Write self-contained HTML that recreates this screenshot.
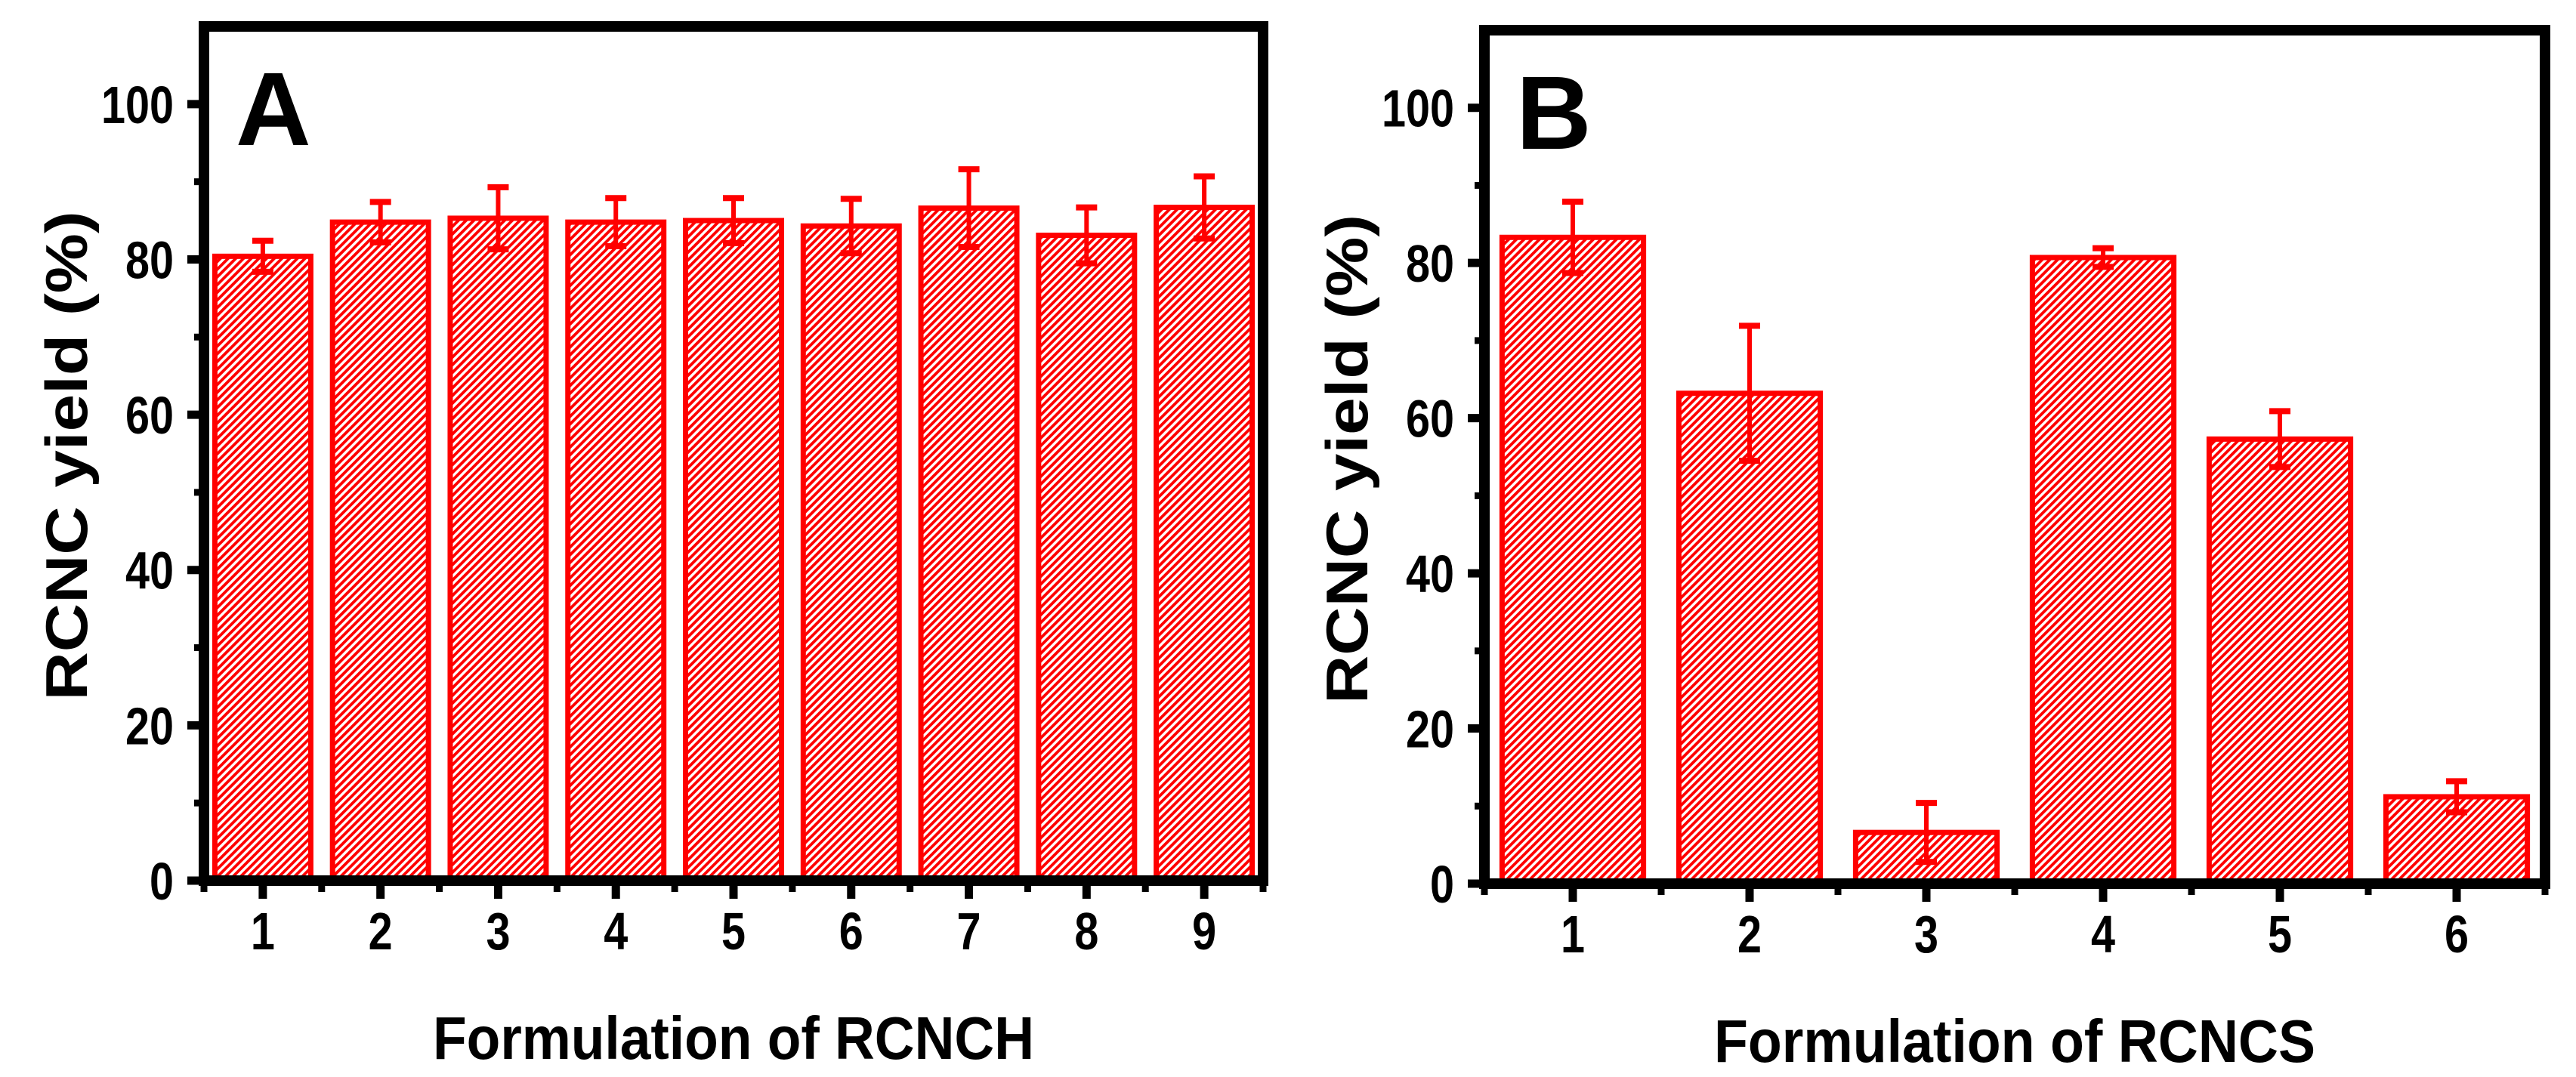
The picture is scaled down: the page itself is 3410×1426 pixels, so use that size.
<!DOCTYPE html>
<html><head><meta charset="utf-8"><style>
html,body{margin:0;padding:0;background:#fff;}
svg{display:block;}
text{font-family:"Liberation Sans",Arial,sans-serif;font-weight:bold;fill:#000;}
</style></head>
<body>
<svg id="fig" width="3410" height="1426" viewBox="0 0 3410 1426" xmlns="http://www.w3.org/2000/svg">
<defs>
<pattern id="hatch" patternUnits="userSpaceOnUse" width="7.2" height="20" patternTransform="rotate(45)">
<rect x="0" y="0" width="3.8" height="20" fill="#ff0000"/>
</pattern>
</defs>
</svg>
<script>
const catsA = ["1","2","3","4","5","6","7","8","9"];
const valsA = [80.4, 84.8, 85.3, 84.8, 85.0, 84.3, 86.6, 83.1, 86.7];
const errsA = [2.0, 2.6, 4.0, 3.1, 2.9, 3.5, 5.0, 3.6, 4.0];
const catsB = ["1","2","3","4","5","6"];
const valsB = [83.3, 63.2, 6.6, 80.7, 57.3, 11.2];
const errsB = [4.6, 8.7, 3.8, 1.2, 3.6, 2.0];
const yTicks = [0, 20, 40, 60, 80, 100];
const yMinor = [10, 30, 50, 70, 90];

const NS = "http://www.w3.org/2000/svg";
const svg = document.getElementById('fig');
function mk(tag, attrs, parent){
  const e = document.createElementNS(NS, tag);
  for (const k in attrs) e.setAttribute(k, attrs[k]);
  (parent||svg).appendChild(e);
  return e;
}

function panel(cfg, cats, vals, errs){
  const g = mk('g', {});
  
  
  const n = cats.length;
  const pitch = (cfg.R - cfg.L) / n;
  const xs = i => cfg.L + pitch * (i + 0.5);
  const ys = v => cfg.B - (cfg.B - cfg.T) * v / 110;
  const bw = pitch * cfg.bf;
  for (let i = 0; i < n; i++) {
    const top = ys(vals[i]);
    const r = mk('rect', {x: xs(i) - bw/2 + 3.5, y: top, width: bw - 7, height: cfg.B - top, fill: 'url(#hatch)', stroke: '#ff0000', 'stroke-width': 7}, g);
    
    
  }
  for (let i = 0; i < n; i++) {
    const eg = mk('g', {stroke: '#ff0000', 'stroke-width': 6, fill: 'none'}, g);
    
    
    const x = xs(i), hi = ys(vals[i] + errs[i]), lo = ys(vals[i] - errs[i]);
    mk('line', {x1: x, y1: hi, x2: x, y2: lo}, eg);
    mk('line', {x1: x - 14, y1: hi, x2: x + 14, y2: hi, 'stroke-width': 8}, eg);
    mk('line', {x1: x - 14, y1: lo, x2: x + 14, y2: lo, 'stroke-width': 8}, eg);
  }
  const f = mk('rect', {x: cfg.L, y: cfg.T, width: cfg.R - cfg.L, height: cfg.B - cfg.T, fill: 'none', stroke: '#000', 'stroke-width': 14}, g);
  
  
  const ya = mk('g', {}, g);
  
  
  yTicks.forEach(v => {
    const y = ys(v);
    mk('line', {x1: cfg.L - 22, y1: y, x2: cfg.L, y2: y, stroke: '#000', 'stroke-width': 11}, ya);
    const s = String(v);
    const t = mk('text', {x: cfg.L - 40, y: y + 25, 'text-anchor': 'end', 'font-size': 70, textLength: 32 * s.length, lengthAdjust: 'spacingAndGlyphs'}, ya);
    t.textContent = s;
    
    
  });
  yMinor.forEach(v => {
    const y = ys(v);
    mk('line', {x1: cfg.L - 13, y1: y, x2: cfg.L, y2: y, stroke: '#000', 'stroke-width': 9}, ya);
  });
  const xa = mk('g', {}, g);
  
  
  for (let i = 0; i < n; i++) {
    const x = xs(i);
    mk('line', {x1: x, y1: cfg.B, x2: x, y2: cfg.B + 24, stroke: '#000', 'stroke-width': 11}, xa);
    const t = mk('text', {x: x, y: cfg.B + 91, 'text-anchor': 'middle', 'font-size': 70, textLength: 32, lengthAdjust: 'spacingAndGlyphs'}, xa);
    t.textContent = cats[i];
    
    
  }
  for (let i = 0; i <= n; i++) {
    const x = cfg.L + pitch * i;
    mk('line', {x1: x, y1: cfg.B, x2: x, y2: cfg.B + 15, stroke: '#000', 'stroke-width': 9}, xa);
  }
  const xt = mk('text', {x: (cfg.L + cfg.R) / 2, y: cfg.B + 236, 'text-anchor': 'middle', 'font-size': 80, textLength: 796, lengthAdjust: 'spacingAndGlyphs'}, g);
  xt.textContent = cfg.xtitle;
  
  
  const ycx = cfg.L - 155, ycy = (cfg.T + cfg.B) / 2 + 3;
  const yt = mk('text', {x: ycx, y: ycy, 'text-anchor': 'middle', 'font-size': 78, textLength: 648, lengthAdjust: 'spacingAndGlyphs', transform: 'rotate(-90 ' + ycx + ' ' + ycy + ')'}, g);
  yt.textContent = 'RCNC yield (%)';
  
  
  const pl = mk('text', {x: cfg.L + 42, y: cfg.T + 157, 'font-size': 138}, g);
  pl.textContent = cfg.id;
  
  
}

panel({id: 'A', L: 270, R: 1672, T: 35, B: 1166, bf: 0.86, xtitle: 'Formulation of RCNCH'}, catsA, valsA, errsA);
panel({id: 'B', L: 1965, R: 3369, T: 40, B: 1170, bf: 0.83, xtitle: 'Formulation of RCNCS'}, catsB, valsB, errsB);
</script>
</body></html>
